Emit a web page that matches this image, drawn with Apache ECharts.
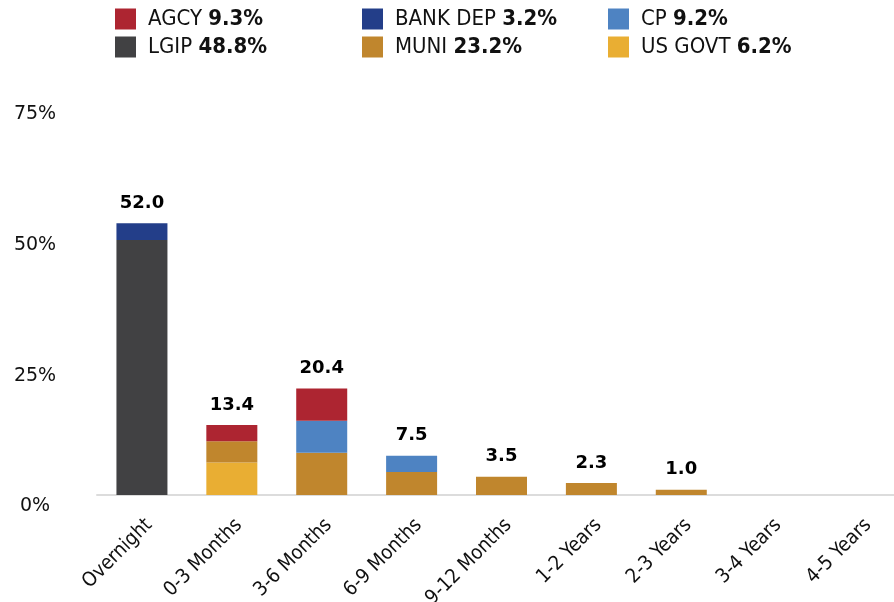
<!DOCTYPE html>
<html>
<head>
<meta charset="utf-8">
<script src="https://cdn.jsdelivr.net/npm/echarts@6/dist/echarts.min.js"></script>
<style>
  html, body { margin: 0; padding: 0; background: #fff; }
  #chart { width: 894px; height: 602px; }
</style>
</head>
<body>
<div id="chart"></div>
<script>
// maturity buckets
const categories = ["Overnight", "0-3 Months", "3-6 Months", "6-9 Months", "9-12 Months",
  "1-2 Years", "2-3 Years", "3-4 Years", "4-5 Years"];

// % of portfolio per bucket, by security type
const lgip    = [48.8, 0, 0, 0, 0, 0, 0, 0, 0];
const usGovt  = [0, 6.2, 0, 0, 0, 0, 0, 0, 0];
const muni    = [0, 4.1, 8.1, 4.4, 3.5, 2.3, 1.0, 0, 0];
const cp      = [0, 0, 6.1, 3.1, 0, 0, 0, 0, 0];
const agcy    = [0, 3.1, 6.2, 0, 0, 0, 0, 0, 0];
const bankDep = [3.2, 0, 0, 0, 0, 0, 0, 0, 0];

// labels above each bar
const totals = ["52.0", "13.4", "20.4", "7.5", "3.5", "2.3", "1.0", "", ""];

// legend: names and share of total
const legendNames = ["AGCY", "BANK DEP", "CP", "LGIP", "MUNI", "US GOVT"];
const legendShares = ["9.3%", "3.2%", "9.2%", "48.8%", "23.2%", "6.2%"];

const yTicks = [0, 25, 50, 75];

const colors = {
  "AGCY": "#ad2531",
  "BANK DEP": "#233e89",
  "CP": "#4e83c2",
  "LGIP": "#414143",
  "MUNI": "#c0862d",
  "US GOVT": "#e9ae33"
};

const narrowFont = "'DejaVu Sans Condensed', 'DejaVu Sans', sans-serif";

const makeLegend = (names, left) => ({
  data: names,
  orient: "vertical",
  left: left,
  top: 8,
  itemWidth: 21,
  itemHeight: 21,
  itemGap: 6,
  icon: "rect",
  selectedMode: false,
  padding: 0,
  formatter: (name) => name + " {b|" + legendShares[legendNames.indexOf(name)] + "}",
  textStyle: {
    fontFamily: narrowFont,
    fontSize: 22,
    color: "#111",
    padding: [0, 0, 0, 7],
    rich: {
      b: { fontFamily: narrowFont, fontSize: 22, fontWeight: "bold", color: "#111" }
    }
  }
});

const barSeries = (name, data) => ({
  name: name,
  type: "bar",
  stack: "total",
  barWidth: 51,
  data: data,
  itemStyle: { color: colors[name] },
  emphasis: { disabled: true }
});

const chart = echarts.init(document.getElementById("chart"), null, { renderer: "canvas" });

const option = {
  animation: false,
  backgroundColor: "#fff",
  legend: [
    makeLegend(["AGCY", "LGIP"], 115),
    makeLegend(["BANK DEP", "MUNI"], 362),
    makeLegend(["CP", "US GOVT"], 608)
  ],
  grid: {
    left: 97, right: -12, top: 103, bottom: 107,
    containLabel: false,
    outerBoundsMode: "none"
  },
  xAxis: {
    type: "category",
    data: categories,
    axisLine: { lineStyle: { color: "#dcdcdc", width: 2 } },
    axisTick: { show: false },
    axisLabel: {
      rotate: 45,
      margin: 20,
      verticalAlign: "top",
      interval: 0,
      fontFamily: narrowFont,
      fontSize: 20,
      color: "#111"
    }
  },
  yAxis: {
    type: "value",
    min: yTicks[0],
    max: yTicks[yTicks.length - 1],
    interval: 25,
    splitLine: { show: false },
    axisLine: { show: false },
    axisTick: { show: false },
    axisLabel: {
      formatter: "{value}%",
      align: "center",
      verticalAlign: "top",
      lineHeight: 23,
      margin: 62,
      fontFamily: "DejaVu Sans",
      fontSize: 19,
      color: "#111"
    }
  },
  series: [
    barSeries("LGIP", lgip),
    barSeries("US GOVT", usGovt),
    barSeries("MUNI", muni),
    barSeries("CP", cp),
    barSeries("AGCY", agcy),
    barSeries("BANK DEP", bankDep),
    {
      // carries the total labels on top of each stack
      name: "total",
      type: "bar",
      stack: "total",
      barWidth: 51,
      data: totals.map(() => 0),
      itemStyle: { color: "transparent" },
      label: {
        show: true,
        position: "top",
        distance: 11,
        formatter: (p) => totals[p.dataIndex],
        fontFamily: "DejaVu Sans",
        fontWeight: "bold",
        fontSize: 18,
        color: "#000"
      },
      emphasis: { disabled: true }
    }
  ]
};

chart.setOption(option);
window.addEventListener("resize", chart.resize);
</script>
</body>
</html>
